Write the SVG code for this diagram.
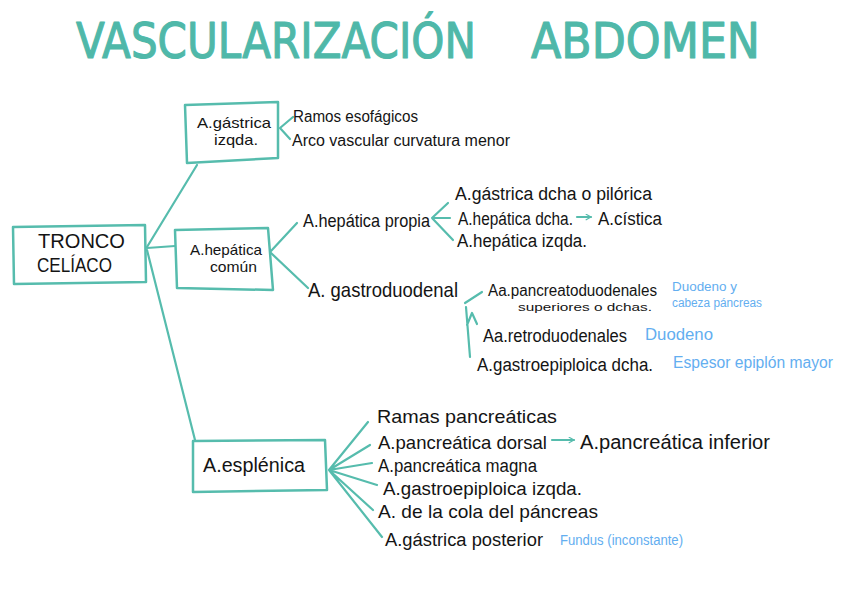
<svg xmlns="http://www.w3.org/2000/svg" width="848" height="599" viewBox="0 0 848 599">
<style>
.bg{fill:#ffffff}
.box{fill:none;stroke:#56bcad;stroke-width:2.5;stroke-linejoin:round}
.ln{fill:none;stroke:#56bcad;stroke-width:2.2;stroke-linecap:round;stroke-linejoin:round}
.t{font-family:"Liberation Sans","Noto Sans",sans-serif;fill:#141414}
.b{font-family:"Liberation Sans","Noto Sans",sans-serif;fill:#63aef0}
.title{font-family:"DejaVu Sans","Liberation Sans",sans-serif;font-size:50px;fill:#4fb8a9;stroke:#4fb8a9;stroke-width:1.2;stroke-linejoin:round}
</style>
<defs>
<marker id="arr" viewBox="0 0 10 10" refX="9" refY="5" markerWidth="7" markerHeight="7" orient="auto" markerUnits="userSpaceOnUse">
<path d="M2,1 L9,5 L2,9" fill="none" stroke="#56bcad" stroke-width="1.6" stroke-linecap="round" stroke-linejoin="round"/>
</marker>
</defs>
<rect class="bg" x="0" y="0" width="848" height="599"/>

<g id="title">
<text class="title" x="76" y="58" textLength="400" lengthAdjust="spacingAndGlyphs">VASCULARIZACIÓN</text>
<text class="title" x="531" y="58" textLength="229" lengthAdjust="spacingAndGlyphs">ABDOMEN</text>
</g>

<g id="connectors">
<path class="ln" d="M147,247 L197,165"/>
<path class="ln" d="M147,248 L175,246"/>
<path class="ln" d="M147,250 L195,440"/>
<path class="ln" d="M293,117 L280,128 L290,139"/>
<path class="ln" d="M271,251 L297,223"/>
<path class="ln" d="M271,253 L308,288"/>
<path class="ln" d="M448,203 L432,218 L453,240 M432,218 L450,218"/>
<path class="ln" d="M577,217 L591,217" marker-end="url(#arr)"/>
<path class="ln" d="M482,292 L465,303 M466,307 L470,357 M467,325 L472,313 L477,324"/>
<path class="ln" d="M368,422 L329,470 L370,445 M329,470 L372,463 M329,470 L377,485 M329,470 L373,510 M329,470 L382,537"/>
<path class="ln" d="M552,440 L574,440" marker-end="url(#arr)"/>
</g>

<g id="tronco">
<path class="box" d="M13,227 L145,225 L146,282 L14,284 Z"/>
<text class="t" x="38" y="248" font-size="20" textLength="87" lengthAdjust="spacingAndGlyphs">TRONCO</text>
<text class="t" x="37" y="272" font-size="20" textLength="75" lengthAdjust="spacingAndGlyphs">CELÍACO</text>
</g>

<g id="gastrica-izqda">
<path class="box" d="M185,105 L278,102 L278,158 L187,163 Z"/>
<text class="t" x="197" y="128" font-size="15" textLength="74" lengthAdjust="spacingAndGlyphs">A.gástrica</text>
<text class="t" x="214" y="145" font-size="15" textLength="44" lengthAdjust="spacingAndGlyphs">izqda.</text>
</g>

<g id="gastrica-izqda-ramas">
<text class="t" x="293" y="122" font-size="16" textLength="125" lengthAdjust="spacingAndGlyphs">Ramos esofágicos</text>
<text class="t" x="292" y="146" font-size="16" textLength="218" lengthAdjust="spacingAndGlyphs">Arco vascular curvatura menor</text>
</g>

<g id="hepatica-comun">
<path class="box" d="M175,230 L268,228 L273,290 L177,288 Z"/>
<text class="t" x="190" y="255" font-size="15" textLength="72" lengthAdjust="spacingAndGlyphs">A.hepática</text>
<text class="t" x="210" y="272" font-size="15" textLength="47" lengthAdjust="spacingAndGlyphs">común</text>
</g>

<g id="hepatica-propia">
<text class="t" x="303" y="227" font-size="19" textLength="127" lengthAdjust="spacingAndGlyphs">A.hepática propia</text>
</g>

<g id="hepatica-propia-ramas">
<text class="t" x="455" y="200" font-size="18" textLength="197" lengthAdjust="spacingAndGlyphs">A.gástrica dcha o pilórica</text>
<text class="t" x="458" y="225" font-size="18" textLength="115" lengthAdjust="spacingAndGlyphs">A.hepática dcha.</text>
<text class="t" x="598" y="225" font-size="18" textLength="64" lengthAdjust="spacingAndGlyphs">A.cística</text>
<text class="t" x="457" y="247" font-size="18" textLength="130" lengthAdjust="spacingAndGlyphs">A.hepática izqda.</text>
</g>

<g id="gastroduodenal">
<text class="t" x="308" y="297" font-size="21" textLength="150" lengthAdjust="spacingAndGlyphs">A. gastroduodenal</text>
</g>

<g id="gastroduodenal-ramas">
<text class="t" x="488" y="296" font-size="16" textLength="169" lengthAdjust="spacingAndGlyphs">Aa.pancreatoduodenales</text>
<text class="t" x="518" y="311" font-size="11" textLength="134" lengthAdjust="spacingAndGlyphs">superiores o dchas.</text>
<text class="b" x="672" y="291" font-size="12" textLength="65" lengthAdjust="spacingAndGlyphs">Duodeno y</text>
<text class="b" x="672" y="307" font-size="12" textLength="90" lengthAdjust="spacingAndGlyphs">cabeza páncreas</text>
<text class="t" x="483" y="342" font-size="18" textLength="144" lengthAdjust="spacingAndGlyphs">Aa.retroduodenales</text>
<text class="b" x="645" y="340" font-size="16" textLength="68" lengthAdjust="spacingAndGlyphs">Duodeno</text>
<text class="t" x="477" y="371" font-size="18" textLength="176" lengthAdjust="spacingAndGlyphs">A.gastroepiploica dcha.</text>
<text class="b" x="673" y="368" font-size="16" textLength="160" lengthAdjust="spacingAndGlyphs">Espesor epiplón mayor</text>
</g>

<g id="esplenica">
<path class="box" d="M193,441 L325,440 L327,490 L193,492 Z"/>
<text class="t" x="203" y="472" font-size="20" textLength="102" lengthAdjust="spacingAndGlyphs">A.esplénica</text>
</g>

<g id="esplenica-ramas">
<text class="t" x="377" y="423" font-size="19" textLength="180" lengthAdjust="spacingAndGlyphs">Ramas pancreáticas</text>
<text class="t" x="378" y="449" font-size="19" textLength="169" lengthAdjust="spacingAndGlyphs">A.pancreática dorsal</text>
<text class="t" x="580" y="449" font-size="20" textLength="190" lengthAdjust="spacingAndGlyphs">A.pancreática inferior</text>
<text class="t" x="378" y="472" font-size="18" textLength="159" lengthAdjust="spacingAndGlyphs">A.pancreática magna</text>
<text class="t" x="383" y="495" font-size="18" textLength="199" lengthAdjust="spacingAndGlyphs">A.gastroepiploica izqda.</text>
<text class="t" x="378" y="518" font-size="19" textLength="220" lengthAdjust="spacingAndGlyphs">A. de la cola del páncreas</text>
<text class="t" x="385" y="546" font-size="18" textLength="158" lengthAdjust="spacingAndGlyphs">A.gástrica posterior</text>
<text class="b" x="560" y="545" font-size="14" textLength="123" lengthAdjust="spacingAndGlyphs">Fundus (inconstante)</text>
</g>
</svg>
